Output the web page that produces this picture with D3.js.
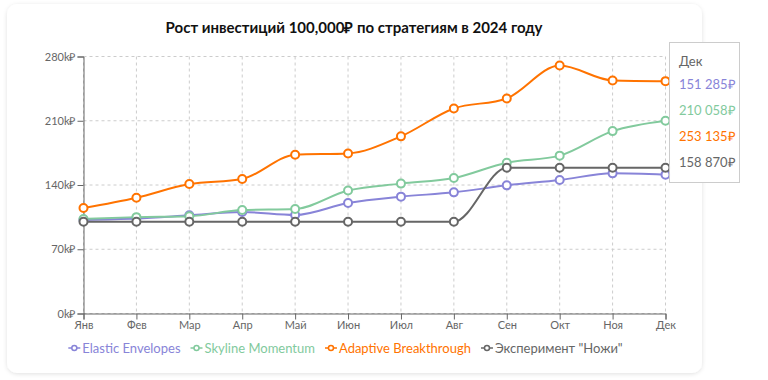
<!DOCTYPE html>
<html>
<head>
<meta charset="utf-8">
<script src="https://cdn.jsdelivr.net/npm/d3@7"></script>
<style>
  body { margin: 0; background: #fff; font-family: Lato, sans-serif; }
</style>
</head>
<body>
<div id="container"></div>
<script>
const months = ["Янв", "Фев", "Мар", "Апр", "Май", "Июн", "Июл", "Авг", "Сен", "Окт", "Ноя", "Дек"];
const elastic = [102000, 103500, 107000, 110500, 107300, 120400, 127300, 132000, 139600, 145400, 152700, 151285];
const skyline = [103000, 105000, 106000, 112700, 113800, 134000, 141500, 147600, 164300, 172000, 198700, 210058];
const adaptive = [114900, 126200, 141000, 146500, 173000, 174400, 193000, 223400, 234300, 270200, 253900, 253135];
const knives = [100000, 100000, 100000, 100000, 100000, 100000, 100000, 100000, 158870, 158870, 158870, 158870];
const yTicks = [0, 70000, 140000, 210000, 280000];

const series = [
    { name: "Elastic Envelopes", values: elastic, color: "#8884d8" },
    { name: "Skyline Momentum", values: skyline, color: "#82ca9d" },
    { name: "Adaptive Breakthrough", values: adaptive, color: "#ff7300" },
    { name: "Эксперимент \"Ножи\"", values: knives, color: "#666666" }
];

const width = 768, height = 380;

const svg = d3.select("#container").append("svg")
    .attr("width", width)
    .attr("height", height)
    .attr("font-family", "Lato, sans-serif");

// card shadow
const defs = svg.append("defs");
const f = defs.append("filter").attr("id", "shadow")
    .attr("x", "-5%").attr("y", "-5%").attr("width", "110%").attr("height", "110%");
f.append("feDropShadow").attr("dx", 0).attr("dy", 1).attr("stdDeviation", 2)
    .attr("flood-color", "#000").attr("flood-opacity", 0.12);

svg.append("rect")
    .attr("x", 7).attr("y", 4)
    .attr("width", 695).attr("height", 369)
    .attr("rx", 10)
    .attr("fill", "#fff")
    .attr("filter", "url(#shadow)");

svg.append("text")
    .attr("x", 354).attr("y", 33)
    .attr("text-anchor", "middle")
    .attr("font-size", 15)
    .attr("font-weight", "bold")
    .attr("fill", "#111")
    .text("Рост инвестиций 100,000₽ по стратегиям в 2024 году");

const x = d3.scalePoint().domain(months).range([83.5, 665.5]);
const y = d3.scaleLinear().domain([0, 280000]).range([313.5, 56.5]);

// grid
const grid = svg.append("g").attr("stroke", "#ccc").attr("stroke-dasharray", "3 3");
grid.selectAll(".h").data(yTicks).enter().append("line")
    .attr("x1", 83.5).attr("x2", 665.5)
    .attr("y1", d => y(d)).attr("y2", d => y(d));
grid.selectAll(".v").data(months).enter().append("line")
    .attr("x1", d => x(d)).attr("x2", d => x(d))
    .attr("y1", 56.5).attr("y2", 313.5);

// axes
const xAxis = d3.axisBottom(x).tickSize(6).tickPadding(2);
const yAxis = d3.axisLeft(y).tickValues(yTicks).tickSize(6).tickPadding(2)
    .tickFormat(d => (d / 1000) + "k₽");

svg.append("g")
    .attr("transform", "translate(0,313.5)")
    .call(xAxis);
svg.append("g")
    .attr("transform", "translate(83.5,0)")
    .call(yAxis);

svg.selectAll(".domain, .tick line").attr("stroke", "#666");
svg.selectAll(".tick text")
    .attr("fill", "#666")
    .attr("font-size", 11)
    .attr("font-family", "Lato, sans-serif");

// lines
const line = d3.line()
    .x((d, i) => x(months[i]))
    .y(d => y(d))
    .curve(d3.curveMonotoneX);

series.forEach(s => {
    svg.append("path")
        .attr("d", line(s.values))
        .attr("fill", "none")
        .attr("stroke", s.color)
        .attr("stroke-width", 2);
});

series.forEach(s => {
    svg.selectAll(null)
        .data(s.values)
        .enter().append("circle")
        .attr("cx", (d, i) => x(months[i]))
        .attr("cy", d => y(d))
        .attr("r", 4)
        .attr("fill", "#fff")
        .attr("stroke", s.color)
        .attr("stroke-width", 2);
});

// legend
const legend = svg.append("g").attr("font-size", 13);
let lx = 0;
series.forEach(s => {
    const item = legend.append("g").attr("transform", `translate(${lx},0)`);
    item.append("line")
        .attr("x1", 0).attr("x2", 12).attr("y1", 0).attr("y2", 0)
        .attr("stroke", s.color).attr("stroke-width", 1.5);
    item.append("circle")
        .attr("cx", 6).attr("cy", 0).attr("r", 2.5)
        .attr("fill", "#fff").attr("stroke", s.color).attr("stroke-width", 1.5);
    const t = item.append("text")
        .attr("x", 14).attr("y", 4.5)
        .attr("fill", s.color)
        .text(s.name);
    lx += 14 + t.node().getComputedTextLength() + 10;
});
lx -= 10;
legend.attr("transform", `translate(${345.5 - lx / 2},348)`);

// tooltip for the last month
const last = months.length - 1;
const tip = svg.append("g").attr("transform", "translate(669,42)");
tip.append("rect")
    .attr("x", 0.5).attr("y", 0.5)
    .attr("width", 70).attr("height", 140)
    .attr("fill", "rgba(255,255,255,0.95)")
    .attr("stroke", "#ccc");
tip.append("text")
    .attr("x", 10).attr("y", 24)
    .attr("font-size", 13)
    .attr("fill", "#666")
    .text(months[last]);
const fmt = v => d3.format(",")(v).replace(/,/g, " ") + "₽";
series.forEach((s, i) => {
    tip.append("text")
        .attr("x", 10).attr("y", 47 + i * 26)
        .attr("font-size", 13)
        .attr("fill", s.color)
        .text(fmt(s.values[last]));
});
</script>
</body>
</html>
